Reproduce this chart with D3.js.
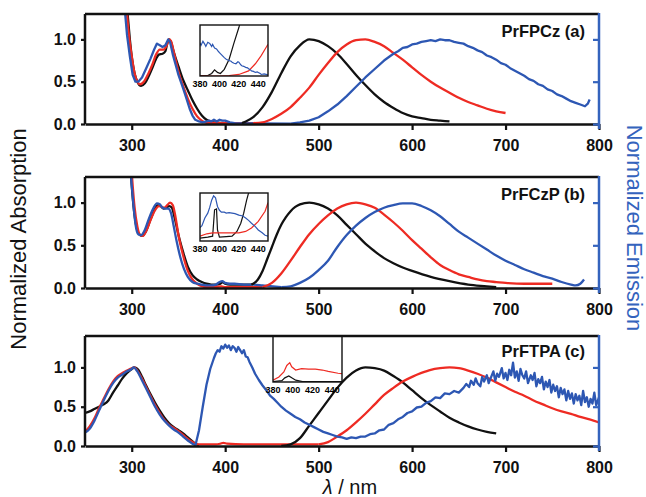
<!DOCTYPE html>
<html>
<head>
<meta charset="utf-8">
<script src="https://cdn.jsdelivr.net/npm/d3@7"></script>
<style>
  body { margin: 0; background: #fff; }
  text { font-family: Arial, "Liberation Sans", sans-serif; }
</style>
</head>
<body>
<div id="chart"></div>
<script>
// wavelength (nm), normalized value pairs

// (a) PrFPCz
var absA_black = [[294,1.5],[296,1.25],[298,1.0],[300,0.8],[303,0.6],[306,0.5],[310,0.45],[314,0.48],[318,0.56],[322,0.66],[326,0.77],[329,0.82],[333,0.83],[336,0.86],[338,0.95],[340,1.0],[342,0.97],[345,0.85],[350,0.68],[355,0.52],[360,0.4],[365,0.28],[370,0.18],[375,0.1],[380,0.05],[385,0.025],[390,0.015],[400,0.01],[418,0.01]];
var absA_red = [[294,1.5],[295,1.3],[297,1.05],[300,0.8],[303,0.6],[306,0.5],[309,0.47],[313,0.5],[318,0.6],[322,0.7],[326,0.82],[330,0.88],[334,0.88],[337,0.92],[340,1.0],[342,0.98],[345,0.85],[350,0.62],[355,0.45],[360,0.3],[365,0.18],[370,0.09],[375,0.04],[380,0.015],[390,0.01],[430,0.01]];
var absA_blue = [[292,1.5],[293,1.3],[295,1.05],[298,0.8],[301,0.58],[304,0.5],[307,0.5],[311,0.55],[316,0.67],[320,0.77],[324,0.88],[327,0.95],[330,0.93],[333,0.91],[336,0.93],[339,1.0],[341,0.97],[344,0.82],[347,0.7],[350,0.58],[355,0.42],[358,0.32],[362,0.18],[365,0.1],[368,0.05],[372,0.03],[376,0.02],[380,0.03],[383,0.04],[385,0.03],[388,0.05],[391,0.03],[394,0.05],[397,0.04],[400,0.04],[405,0.02],[410,0.01],[470,0.005]];
var emA_black = [[418,0.01],[420,0.02],[430,0.08],[440,0.2],[450,0.38],[460,0.6],[470,0.8],[480,0.93],[490,1.0],[500,0.98],[510,0.92],[520,0.83],[530,0.71],[540,0.58],[550,0.46],[560,0.35],[570,0.26],[580,0.19],[590,0.13],[600,0.09],[610,0.07],[620,0.05],[630,0.04],[640,0.03]];
var emA_red = [[430,0.01],[440,0.02],[450,0.06],[460,0.12],[470,0.2],[480,0.31],[490,0.43],[500,0.58],[510,0.72],[520,0.85],[530,0.94],[540,0.99],[550,1.0],[560,0.97],[570,0.92],[580,0.84],[590,0.76],[600,0.67],[610,0.58],[620,0.5],[630,0.43],[640,0.37],[650,0.31],[660,0.26],[670,0.22],[680,0.18],[690,0.15],[700,0.13]];
var emA_blue = [[470,0.005],[480,0.02],[490,0.04],[500,0.08],[510,0.15],[520,0.23],[530,0.33],[540,0.44],[550,0.55],[560,0.65],[570,0.75],[580,0.83],[585,0.86],[590,0.9],[595,0.91],[600,0.94],[605,0.95],[610,0.97],[615,0.98],[620,0.99],[625,0.98],[630,1.0],[635,0.99],[640,0.99],[645,0.97],[650,0.96],[655,0.95],[660,0.92],[665,0.9],[670,0.87],[675,0.85],[680,0.81],[685,0.79],[690,0.76],[695,0.72],[700,0.7],[705,0.66],[710,0.63],[715,0.6],[720,0.57],[725,0.53],[730,0.51],[735,0.47],[740,0.45],[745,0.41],[750,0.39],[755,0.35],[760,0.33],[765,0.3],[770,0.27],[775,0.25],[780,0.23],[785,0.21],[788,0.24],[790,0.29]];
var insA_black = [[380,0.01],[388,0.01],[392,0.05],[395,0.12],[398,0.07],[401,0.05],[405,0.13],[410,0.33],[415,0.65],[420,0.95],[423,1.15]];
var insA_red = [[380,0.0],[400,0.0],[410,0.01],[420,0.03],[430,0.1],[437,0.24],[443,0.4],[448,0.56],[450,0.62]];
var insA_blue = [[380,0.65],[381,0.6],[383,0.68],[385,0.62],[386,0.58],[388,0.66],[390,0.64],[392,0.58],[393,0.62],[395,0.55],[397,0.53],[399,0.48],[400,0.46],[402,0.42],[403,0.4],[405,0.36],[407,0.33],[409,0.31],[410,0.3],[412,0.29],[413,0.27],[415,0.25],[417,0.24],[419,0.28],[420,0.27],[422,0.22],[423,0.2],[425,0.19],[427,0.17],[429,0.16],[430,0.14],[432,0.12],[433,0.1],[435,0.09],[437,0.07],[439,0.08],[440,0.07],[442,0.05],[443,0.03],[446,0.04],[450,0.02]];

// (b) PrFCzP
var absB_black = [[298,1.5],[300,1.2],[302,0.95],[305,0.72],[308,0.63],[311,0.61],[315,0.66],[320,0.8],[325,0.93],[328,0.97],[331,0.96],[334,0.93],[337,0.94],[340,0.96],[343,0.94],[346,0.82],[350,0.62],[355,0.42],[360,0.25],[365,0.15],[370,0.1],[375,0.07],[380,0.05],[385,0.04],[390,0.04],[395,0.05],[397,0.07],[400,0.05],[405,0.04],[410,0.04],[420,0.04],[428,0.04]];
var absB_red = [[299,1.5],[301,1.2],[303,0.95],[306,0.72],[309,0.62],[312,0.61],[316,0.68],[321,0.82],[326,0.93],[329,0.96],[332,0.95],[335,0.94],[338,0.97],[341,1.0],[344,0.97],[347,0.82],[350,0.62],[355,0.38],[360,0.2],[365,0.1],[370,0.05],[375,0.02],[380,0.01],[390,0.01],[396,0.02],[400,0.01],[440,0.01]];
var absB_blue = [[298,1.5],[300,1.2],[302,0.95],[304,0.75],[307,0.63],[310,0.62],[314,0.68],[318,0.8],[323,0.93],[327,0.99],[330,0.98],[333,0.94],[336,0.93],[339,0.93],[342,0.88],[345,0.72],[348,0.55],[352,0.36],[356,0.22],[360,0.13],[365,0.07],[370,0.05],[375,0.04],[380,0.03],[385,0.03],[390,0.04],[394,0.07],[397,0.08],[400,0.06],[405,0.05],[410,0.05],[420,0.04],[430,0.04],[440,0.03],[460,0.01]];
var emB_black = [[428,0.04],[430,0.05],[435,0.1],[440,0.2],[445,0.34],[450,0.48],[455,0.62],[460,0.74],[465,0.83],[470,0.9],[475,0.95],[480,0.98],[490,1.0],[500,0.98],[510,0.93],[520,0.85],[530,0.74],[540,0.63],[550,0.52],[560,0.43],[570,0.35],[580,0.29],[590,0.24],[600,0.2],[620,0.13],[640,0.08],[660,0.04],[680,0.02],[690,0.01]];
var emB_red = [[440,0.01],[450,0.06],[460,0.17],[470,0.32],[480,0.48],[490,0.63],[500,0.75],[510,0.85],[520,0.93],[530,0.98],[540,1.0],[550,0.98],[560,0.94],[570,0.86],[580,0.77],[590,0.67],[600,0.56],[610,0.46],[620,0.36],[630,0.27],[640,0.21],[650,0.16],[660,0.13],[670,0.1],[680,0.08],[690,0.07],[700,0.06],[720,0.05],[750,0.05]];
var emB_blue = [[460,0.01],[470,0.02],[480,0.06],[490,0.12],[500,0.21],[510,0.32],[520,0.48],[530,0.62],[540,0.73],[550,0.82],[560,0.89],[570,0.94],[580,0.97],[590,0.99],[600,0.99],[610,0.96],[620,0.91],[630,0.84],[640,0.75],[650,0.66],[660,0.59],[670,0.52],[680,0.45],[690,0.38],[700,0.32],[710,0.27],[720,0.22],[730,0.18],[740,0.14],[750,0.11],[760,0.07],[770,0.04],[775,0.03],[780,0.05],[784,0.1]];
var insB_black = [[380,0.06],[388,0.08],[393,0.1],[395,0.65],[397,0.67],[398,0.23],[400,0.08],[407,0.09],[413,0.1],[418,0.2],[422,0.37],[425,0.58],[428,0.85],[432,1.15]];
var insB_red = [[380,0.1],[387,0.15],[393,0.17],[403,0.17],[420,0.17],[427,0.2],[433,0.27],[440,0.41],[447,0.62],[450,0.8]];
var insB_blue = [[380,0.28],[382,0.32],[385,0.48],[388,0.58],[390,0.7],[392,0.85],[394,0.94],[396,0.9],[398,0.72],[400,0.64],[402,0.6],[405,0.6],[407,0.58],[410,0.59],[413,0.58],[416,0.57],[420,0.54],[424,0.52],[427,0.48],[430,0.43],[433,0.37],[437,0.3],[440,0.23],[444,0.17],[447,0.12],[450,0.1]];

// (c) PrFTPA
var absC_black = [[250,0.42],[255,0.44],[260,0.47],[265,0.5],[270,0.53],[275,0.58],[280,0.68],[285,0.77],[290,0.86],[295,0.93],[300,0.98],[303,1.0],[307,0.97],[311,0.88],[315,0.78],[320,0.66],[325,0.55],[330,0.45],[335,0.36],[340,0.29],[345,0.24],[350,0.2],[355,0.16],[360,0.11],[365,0.06],[368,0.03],[372,0.01]];
var absC_red = [[250,0.18],[255,0.25],[260,0.35],[265,0.48],[270,0.6],[275,0.72],[280,0.82],[285,0.89],[290,0.93],[295,0.96],[300,0.99],[303,1.0],[306,0.96],[310,0.88],[315,0.76],[320,0.64],[325,0.52],[330,0.42],[335,0.33],[340,0.27],[345,0.23],[350,0.19],[355,0.14],[360,0.09],[365,0.05],[370,0.02],[380,0.02],[390,0.02],[395,0.03],[398,0.04],[402,0.03],[420,0.02],[450,0.02],[480,0.02],[500,0.02]];
var absC_blue = [[250,0.17],[255,0.22],[260,0.32],[265,0.45],[270,0.58],[275,0.7],[280,0.8],[285,0.87],[290,0.91],[295,0.95],[300,0.98],[302,1.0],[306,0.95],[310,0.86],[315,0.74],[320,0.62],[325,0.5],[330,0.4],[335,0.32],[340,0.26],[345,0.21],[350,0.17],[355,0.12],[360,0.07],[365,0.03],[368,0.01]];
var emC_black = [[460,0.0],[470,0.02],[480,0.1],[490,0.26],[500,0.42],[510,0.58],[520,0.74],[530,0.87],[540,0.96],[550,1.0],[560,0.99],[570,0.96],[580,0.89],[590,0.81],[600,0.71],[610,0.61],[620,0.52],[630,0.44],[640,0.36],[650,0.3],[660,0.25],[670,0.21],[680,0.18],[690,0.16]];
var emC_red = [[500,0.02],[510,0.05],[520,0.12],[530,0.2],[540,0.3],[550,0.41],[560,0.53],[570,0.65],[580,0.74],[590,0.82],[600,0.88],[610,0.93],[620,0.97],[630,0.99],[640,1.0],[650,0.99],[660,0.96],[670,0.92],[680,0.87],[690,0.81],[700,0.75],[710,0.69],[720,0.64],[730,0.58],[740,0.53],[750,0.48],[760,0.44],[770,0.41],[780,0.37],[790,0.34],[800,0.3]];
var emC_blue = [[368,0.0],[372,0.2],[376,0.5],[380,0.78],[384,0.98],[388,1.12],[390,1.18],[392,1.22],[394,1.2],[396,1.27],[398,1.24],[400,1.29],[402,1.25],[404,1.28],[406,1.22],[408,1.27],[410,1.25],[412,1.2],[414,1.26],[416,1.22],[418,1.18],[420,1.22],[422,1.14],[424,1.13],[426,1.07],[429,1.0],[432,0.92],[436,0.84],[440,0.77],[444,0.71],[448,0.64],[452,0.6],[456,0.55],[460,0.5],[465,0.45],[470,0.41],[475,0.37],[480,0.34],[485,0.3],[490,0.27],[495,0.24],[500,0.21],[505,0.18],[510,0.16],[515,0.14],[520,0.12],[525,0.11],[530,0.09],[535,0.11],[540,0.1],[545,0.12],[550,0.12],[555,0.15],[560,0.16],[565,0.2],[570,0.21],[575,0.27],[580,0.29],[585,0.34],[590,0.37],[595,0.42],[600,0.44],[605,0.49],[610,0.5],[615,0.55],[620,0.57],[625,0.62],[630,0.61],[635,0.67],[640,0.66],[645,0.7],[650,0.68],[655,0.74],[658,0.79],[661,0.75],[663,0.83],[666,0.78],[668,0.86],[670,0.8],[673,0.76],[675,0.88],[677,0.82],[680,0.9],[682,0.8],[684,0.86],[687,0.95],[689,0.83],[691,0.92],[693,0.88],[696,0.99],[698,0.86],[700,0.93],[702,0.84],[704,0.97],[706,0.9],[708,1.06],[710,0.87],[712,0.95],[714,0.83],[716,0.98],[718,0.9],[720,0.86],[722,0.95],[724,0.8],[727,0.9],[729,0.84],[731,0.93],[733,0.76],[735,0.85],[737,0.8],[739,0.88],[741,0.72],[743,0.82],[745,0.75],[747,0.84],[749,0.68],[751,0.78],[753,0.7],[755,0.76],[757,0.62],[759,0.74],[761,0.66],[763,0.72],[765,0.58],[767,0.7],[769,0.6],[771,0.67],[773,0.54],[775,0.66],[777,0.58],[779,0.64],[781,0.52],[783,0.7],[785,0.56],[787,0.62],[789,0.5],[791,0.6],[793,0.54],[795,0.68],[797,0.52],[800,0.62]];
var insC_black = [[380,0.01],[389,0.03],[392,0.09],[396,0.13],[399,0.09],[403,0.04],[410,0.01],[450,0.01]];
var insC_red = [[380,0.04],[386,0.11],[391,0.22],[394,0.36],[397,0.42],[399,0.33],[403,0.26],[409,0.29],[416,0.28],[423,0.28],[430,0.26],[436,0.23],[446,0.19],[450,0.18]];

var xTicks = [300, 400, 500, 600, 700, 800];
var yTicks = [0, 0.5, 1.0];
var insetTicks = [380, 400, 420, 440];
var titles = ["PrFPCz (a)", "PrFCzP (b)", "PrFTPA (c)"];

var BLACK = "#111", RED = "#ee2b23", BLUE = "#2d57b3", AXBLUE = "#3463bd";

var width = 646, height = 497;
var svg = d3.select("#chart").append("svg")
  .attr("width", width)
  .attr("height", height);

var x = d3.scaleLinear().domain([250, 800]).range([85, 599]);

var smooth = d3.curveMonotoneX, raw = d3.curveLinear;

var panels = [
  { top: 14, bottom: 124, ymax: 1.3, titleY: 37,
    series: [absA_black, absA_red, absA_blue, emA_black, emA_red, emA_blue],
    colors: [BLACK, RED, BLUE, BLACK, RED, BLUE],
    curves: [smooth, smooth, raw, smooth, smooth, raw],
    inset: { l: 200, r: 268, t: 25, b: 76, series: [insA_black, insA_red, insA_blue], colors: [BLACK, RED, BLUE] } },
  { top: 177, bottom: 288, ymax: 1.3, titleY: 200,
    series: [absB_black, absB_red, absB_blue, emB_black, emB_red, emB_blue],
    colors: [BLACK, RED, BLUE, BLACK, RED, BLUE],
    curves: [smooth, smooth, smooth, smooth, smooth, smooth],
    inset: { l: 200, r: 268, t: 193, b: 241, series: [insB_black, insB_red, insB_blue], colors: [BLACK, RED, BLUE] } },
  { top: 336, bottom: 446, ymax: 1.4, titleY: 357,
    series: [absC_black, absC_red, absC_blue, emC_black, emC_red, emC_blue],
    colors: [BLACK, RED, BLUE, BLACK, RED, BLUE],
    curves: [smooth, smooth, smooth, smooth, smooth, raw],
    inset: { l: 273, r: 342, t: 336, b: 382, series: [insC_black, insC_red], colors: [BLACK, RED] } }
];

panels.forEach(function(p, i) {
  var y = d3.scaleLinear().domain([0, p.ymax]).range([p.bottom, p.top]);
  var g = svg.append("g");

  g.append("clipPath").attr("id", "clip" + i)
    .append("rect")
    .attr("x", x.range()[0]).attr("y", p.top)
    .attr("width", x.range()[1] - x.range()[0]).attr("height", p.bottom - p.top);

  // absorption first, then emission, black -> red -> blue
  var curves = g.append("g").attr("clip-path", "url(#clip" + i + ")");
  p.series.forEach(function(s, k) {
    var line = d3.line()
      .x(function(d) { return x(d[0]); })
      .y(function(d) { return y(d[1]); })
      .curve(p.curves[k]);
    curves.append("path")
      .datum(s)
      .attr("d", line)
      .attr("fill", "none")
      .attr("stroke", p.colors[k])
      .attr("stroke-width", 2.3)
      .attr("stroke-linejoin", "round");
  });

  // inset
  var ins = p.inset;
  var ix = d3.scaleLinear().domain([380, 450]).range([ins.l, ins.r]);
  var iy = d3.scaleLinear().domain([0, 1]).range([ins.b, ins.t]);
  var ig = g.append("g");
  ig.append("clipPath").attr("id", "iclip" + i)
    .append("rect")
    .attr("x", ins.l).attr("y", ins.t)
    .attr("width", ins.r - ins.l).attr("height", ins.b - ins.t);
  var iline = d3.line()
    .x(function(d) { return ix(d[0]); })
    .y(function(d) { return iy(d[1]); });
  var icurves = ig.append("g").attr("clip-path", "url(#iclip" + i + ")");
  ins.series.forEach(function(s, k) {
    icurves.append("path")
      .datum(s)
      .attr("d", iline)
      .attr("fill", "none")
      .attr("stroke", ins.colors[k])
      .attr("stroke-width", 1.2);
  });
  ig.append("rect")
    .attr("x", ins.l).attr("y", ins.t)
    .attr("width", ins.r - ins.l).attr("height", ins.b - ins.t)
    .attr("fill", "none")
    .attr("stroke", "#111")
    .attr("stroke-width", 1.4);
  ig.selectAll("text.it")
    .data(insetTicks)
    .join("text")
    .attr("class", "it")
    .attr("x", function(d) { return ix(d); })
    .attr("y", ins.b + 11)
    .attr("text-anchor", "middle")
    .attr("font-size", 9)
    .attr("font-weight", "bold")
    .text(function(d) { return d; });

  // frame: top line
  g.append("line")
    .attr("x1", x.range()[0]).attr("x2", x.range()[1])
    .attr("y1", p.top).attr("y2", p.top)
    .attr("stroke", "#111").attr("stroke-width", 2.5);

  // bottom axis
  var xa = g.append("g")
    .attr("transform", "translate(0," + p.bottom + ")")
    .call(d3.axisBottom(x).tickValues(xTicks).tickSize(6).tickPadding(10).tickSizeOuter(0));
  xa.select(".domain").attr("stroke", "#111").attr("stroke-width", 2.5);
  xa.selectAll(".tick line").attr("stroke", "#111").attr("stroke-width", 2.2);
  xa.selectAll("text").attr("font-size", 16).attr("font-weight", "bold").attr("fill", "#111")
    .attr("font-family", "Arial, 'Liberation Sans', sans-serif");

  // left axis
  var ya = g.append("g")
    .attr("transform", "translate(" + x.range()[0] + ",0)")
    .call(d3.axisLeft(y).tickValues(yTicks).tickFormat(d3.format(".1f")).tickSize(4).tickPadding(5).tickSizeOuter(0));
  ya.select(".domain").attr("stroke", "#111").attr("stroke-width", 2.5)
    .attr("d", "M0," + p.top + "V" + p.bottom);
  ya.selectAll(".tick line").attr("stroke", "#111").attr("stroke-width", 2.2);
  ya.selectAll("text").attr("font-size", 16).attr("font-weight", "bold").attr("fill", "#111")
    .attr("font-family", "Arial, 'Liberation Sans', sans-serif");

  // right axis (emission), blue, inward ticks, no labels
  var ra = g.append("g")
    .attr("transform", "translate(" + x.range()[1] + ",0)")
    .call(d3.axisLeft(y).tickValues(yTicks).tickSize(6).tickFormat("").tickSizeOuter(0));
  ra.select(".domain").attr("stroke", AXBLUE).attr("stroke-width", 2.5)
    .attr("d", "M0," + (p.top - 1) + "V" + (p.bottom + 5));
  ra.selectAll(".tick line").attr("stroke", AXBLUE).attr("stroke-width", 2.2);

  // panel title
  g.append("text")
    .attr("x", 585)
    .attr("y", p.titleY)
    .attr("text-anchor", "end")
    .attr("font-size", 16.5)
    .attr("font-weight", "bold")
    .attr("fill", "#111")
    .text(titles[i]);
});

// axis titles
svg.append("text")
  .attr("transform", "translate(18,239) rotate(-90)")
  .attr("text-anchor", "middle")
  .attr("dy", "0.35em")
  .attr("font-size", 22)
  .attr("fill", "#111")
  .text("Normalized Absorption");

svg.append("text")
  .attr("transform", "translate(635,228) rotate(90)")
  .attr("text-anchor", "middle")
  .attr("dy", "0.35em")
  .attr("font-size", 22)
  .attr("fill", AXBLUE)
  .text("Normalized Emission");

var xl = svg.append("text")
  .attr("x", 350)
  .attr("y", 494)
  .attr("text-anchor", "middle")
  .attr("font-size", 20)
  .attr("fill", "#111");
xl.append("tspan").attr("font-style", "italic").text("λ");
xl.append("tspan").text(" / nm");
</script>
</body>
</html>
